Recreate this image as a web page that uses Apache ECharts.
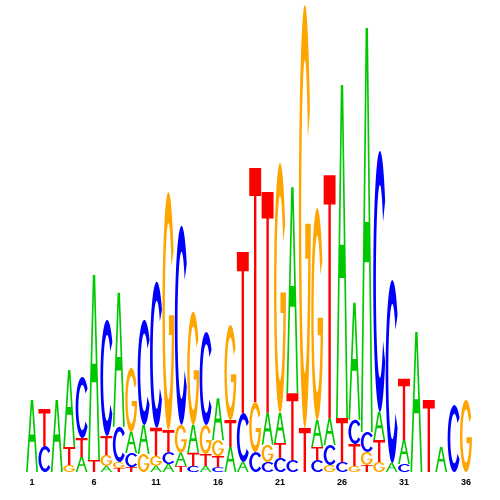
<!DOCTYPE html>
<html><head><meta charset="utf-8">
<script src="https://cdn.jsdelivr.net/npm/echarts@6/dist/echarts.min.js"></script>
<style>html,body{margin:0;padding:0;background:#fff}#c{width:500px;height:500px}</style>
</head><body><div id="c"></div>
<script>
// Sequence positions (x-axis categories)
const positions = ['1','2','3','4','5','6','7','8','9','10','11','12','13','14','15','16','17','18',
  '19','20','21','22','23','24','25','26','27','28','29','30','31','32','33','34','35','36'];

// Letter heights in bits for each position
const bitsA = [0.308,0,0.308,0.329,0.064,0.791,0.026,0.573,0.090,0.124,0.026,0.034,0.056,0.120,0.026,0.179,0.107,0.043,
  0,0.137,0.128,0.880,0,0.115,0.115,1.423,0.500,1.726,0.120,0.038,0.103,0.598,0,0.107,0,0];
const bitsC = [0,0.111,0,0,0.261,0,0.496,0.150,0.060,0.449,0.624,0.051,0.850,0.026,0.397,0.021,0,0.209,
  0.085,0.043,0.060,0.051,0,0.051,0.085,0.043,0.103,0.085,1.115,0.782,0.034,0,0,0,0.286,0];
const bitsG = [0,0,0,0.030,0,0,0.047,0.026,0.274,0.077,0.043,1.017,0.120,0.483,0.124,0.068,0.406,0,
  0.214,0.073,1.068,0,1.808,0.906,0.030,0,0.026,0.056,0.043,0,0,0,0,0,0,0.308];
const bitsT = [0,0.158,0,0.077,0.081,0.051,0.081,0.017,0.021,0,0.120,0.094,0.026,0.056,0.051,0.047,0.115,0.688,
  1.000,0.944,0.064,0.286,0.188,0.056,1.038,0.188,0.094,0.030,0.094,0,0.261,0,0.308,0,0,0];

const letters = ['A','C','G','T'];
const letterColors = ['#00c800','#0000ff','#ffa500','#ff0000'];
const heights = [bitsA, bitsC, bitsG, bitsT];

// ---- glyph outlines (unit box 0..100) ----
function ell(rx, ry, a) { const r = a * Math.PI / 180; return [50 + rx * Math.cos(r), 50 - ry * Math.sin(r)]; }
function arc(rx, ry, a0, a1, n) { const p = []; for (let k = 0; k <= n; k++) p.push(ell(rx, ry, a0 + (a1 - a0) * k / n)); return p; }
function toPath(pts) { return 'M' + pts.map(p => p[0].toFixed(2) + ' ' + p[1].toFixed(2)).join(' L') + ' Z'; }

const A_PATH = 'M0 100 L40 0 L60 0 L100 100 L86 100 L69.2 58 L30.8 58 L14 100 Z M34.8 48 L65.2 48 L50 10 Z';
const T_PATH = 'M0 0 L100 0 L100 12 L60 12 L60 100 L40 100 L40 12 L0 12 Z';
const C_PATH = toPath(arc(50, 50, 38, 322, 48).concat(arc(30, 37, 322, 38, 48)));
(function () {})();
const gInnerStart = 360 + Math.asin(-10 / 37) * 180 / Math.PI;
const gOuter = arc(50, 50, 30, 358, 48);
const gEnd = gOuter[gOuter.length - 1];
const gInnerPt = ell(30, 37, gInnerStart);
const G_PATH = toPath(gOuter.concat([[54, gEnd[1]], [54, 60], [gInnerPt[0], 60]]).concat(arc(30, 37, gInnerStart, 30, 48)));
const glyphs = [A_PATH, C_PATH, G_PATH, T_PATH];

// stack letters: smallest at bottom, largest on top
const items = [];
positions.forEach((p, i) => {
  const stack = [0, 1, 2, 3].map(li => ({ li, h: heights[li][i] })).filter(o => o.h > 0).sort((a, b) => a.h - b.h);
  let base = 0;
  stack.forEach(o => { items.push([i, base, base + o.h, o.li]); base += o.h; });
});

const chart = echarts.init(document.getElementById('c'), null, { renderer: 'canvas' });
chart.setOption({
  animation: false,
  grid: { left: 25.8, right: 27.8, top: 4, bottom: 28 },
  xAxis: {
    type: 'category', data: positions, boundaryGap: true,
    axisLine: { show: false }, axisTick: { show: false }, splitLine: { show: false },
    axisLabel: { interval: 4, color: '#000', fontSize: 9, fontWeight: 'bold', fontFamily: 'Liberation Sans, Arial, sans-serif', margin: 6 }
  },
  yAxis: { type: 'value', min: 0, max: 2, show: false },
  series: [{
    type: 'custom',
    data: items,
    renderItem: function (params, api) {
      const i = api.value(0), y0 = api.value(1), y1 = api.value(2), li = api.value(3);
      const pb = api.coord([i, y0]), pt = api.coord([i, y1]);
      const bw = api.size([1, 0])[0] * 0.96;
      return {
        type: 'path',
        shape: { pathData: glyphs[li], layout: 'cover', x: pb[0] - bw / 2, y: pt[1], width: bw, height: pb[1] - pt[1] },
        style: { fill: letterColors[li], stroke: null }
      };
    }
  }]
});
</script>
</body></html>
